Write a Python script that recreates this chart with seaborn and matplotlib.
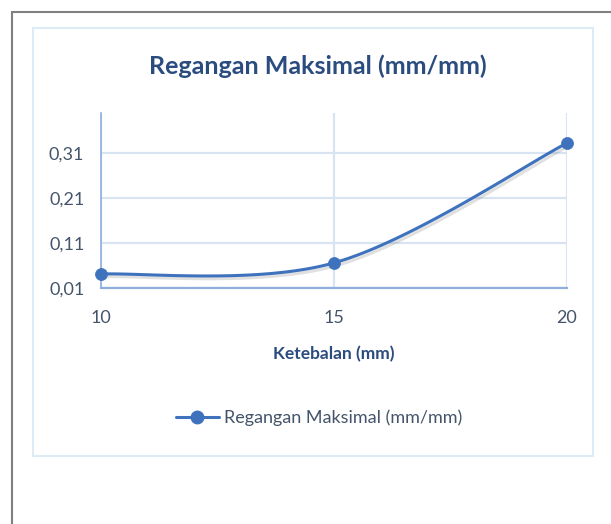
import numpy as np
import pandas as pd
import matplotlib
matplotlib.use("Agg")
import matplotlib.pyplot as plt
import matplotlib.patheffects as pe
from matplotlib.lines import Line2D
from matplotlib.patches import Rectangle
import seaborn as sns

# ── Données ─────────────────────────────────────────────
ketebalan = [10, 15, 20]
regangan = [0.041, 0.066, 0.333]
y_ticks = [0.01, 0.11, 0.21, 0.31]
y_tick_labels = ["0,01", "0,11", "0,21", "0,31"]

title = "Regangan Maksimal (mm/mm)"
x_label = "Ketebalan (mm)"
series_name = "Regangan Maksimal (mm/mm)"

LINE = "#3F72BD"
TXT = "#44546A"
TITLE = "#2B4C7E"
GRID = "#D9E4F3"
AXIS = "#8EAEDC"


def excel_smooth(x, y, n=60):
    # courbe lissée type Excel (Bezier cubique, style Catmull-Rom)
    p = np.column_stack([x, y]).astype(float)
    pts = np.vstack([p[0], p, p[-1]])
    out = []
    t = np.linspace(0, 1, n)[:, None]
    for i in range(1, len(pts) - 2):
        p0, p1 = pts[i], pts[i + 1]
        c1 = p0 + (pts[i + 1] - pts[i - 1]) / 6
        c2 = p1 - (pts[i + 2] - pts[i]) / 6
        seg = ((1 - t) ** 3) * p0 + 3 * ((1 - t) ** 2) * t * c1 \
            + 3 * (1 - t) * t ** 2 * c2 + t ** 3 * p1
        out.append(seg if i == 1 else seg[1:])
    out = np.vstack(out)
    return out[:, 0], out[:, 1]


sx, sy = excel_smooth(ketebalan, regangan)
smooth = pd.DataFrame({"x": sx, "y": sy})
points = pd.DataFrame({"x": ketebalan, "y": regangan})

sns.set_style("white")
plt.rcParams["font.family"] = ["Lato", "DejaVu Sans"]

W, H = 611, 524
fig = plt.figure(figsize=(W / 100, H / 100), dpi=100)


def px(x0, y0, x1, y1):
    return [x0 / W, 1 - y1 / H, (x1 - x0) / W, (y1 - y0) / H]


ax = fig.add_axes(px(101, 113, 567, 288))

shadow = [pe.SimpleLineShadow(offset=(1.5, -2), alpha=0.18, shadow_color="#555555"),
          pe.Normal()]

sns.lineplot(data=smooth, x="x", y="y", ax=ax, color=LINE, linewidth=2.2,
             sort=False, estimator=None, path_effects=shadow, zorder=4)
sns.scatterplot(data=points, x="x", y="y", ax=ax, color=LINE, s=75,
                edgecolor=LINE, linewidth=0.5, clip_on=False, zorder=5)

ax.set_xlim(10, 20)
ax.set_ylim(0.01, 0.40)
ax.set_xticks(ketebalan)
ax.set_xticklabels([str(k) for k in ketebalan])
ax.set_yticks(y_ticks)
ax.set_yticklabels(y_tick_labels)

ax.grid(True, color=GRID, linewidth=1.6)
ax.set_axisbelow(True)
for s in ["top", "right"]:
    ax.spines[s].set_visible(False)
ax.spines["bottom"].set_color(AXIS)
ax.spines["bottom"].set_linewidth(1.6)
ax.spines["left"].set_color(AXIS)
ax.spines["left"].set_linewidth(1.2)

ax.tick_params(axis="both", length=0, labelsize=13, colors=TXT)
ax.tick_params(axis="x", pad=16)
ax.tick_params(axis="y", pad=12)

ax.set_xlabel(x_label, fontsize=12.5, fontweight="bold", color=TITLE, labelpad=14)
ax.set_ylabel("")

fig.text(318 / W, 1 - 66 / H, title, ha="center", va="center",
         fontsize=18, fontweight="bold", color=TITLE)

# légende
handle = Line2D([0], [0], color=LINE, linewidth=2.2, marker="o", markersize=9)
fig.legend([handle], [series_name], loc="center", bbox_to_anchor=(319 / W, 1 - 418 / H),
           frameon=False, fontsize=13, labelcolor=TXT, handlelength=2.4,
           handletextpad=0.3)

# cadre du graphique et bordure extérieure
fig.patches.append(Rectangle((33 / W, 1 - 456 / H), 560 / W, 428 / H,
                             transform=fig.transFigure, fill=False,
                             edgecolor="#DDEBF7", linewidth=1.5))
fig.lines.append(Line2D([12 / W, 12 / W], [0, 1 - 12 / H], transform=fig.transFigure,
                        color="#808080", linewidth=1.5))
fig.lines.append(Line2D([12 / W, 1], [1 - 12 / H, 1 - 12 / H], transform=fig.transFigure,
                        color="#808080", linewidth=1.5))

fig.savefig("out.png", dpi=100)
plt.close()
